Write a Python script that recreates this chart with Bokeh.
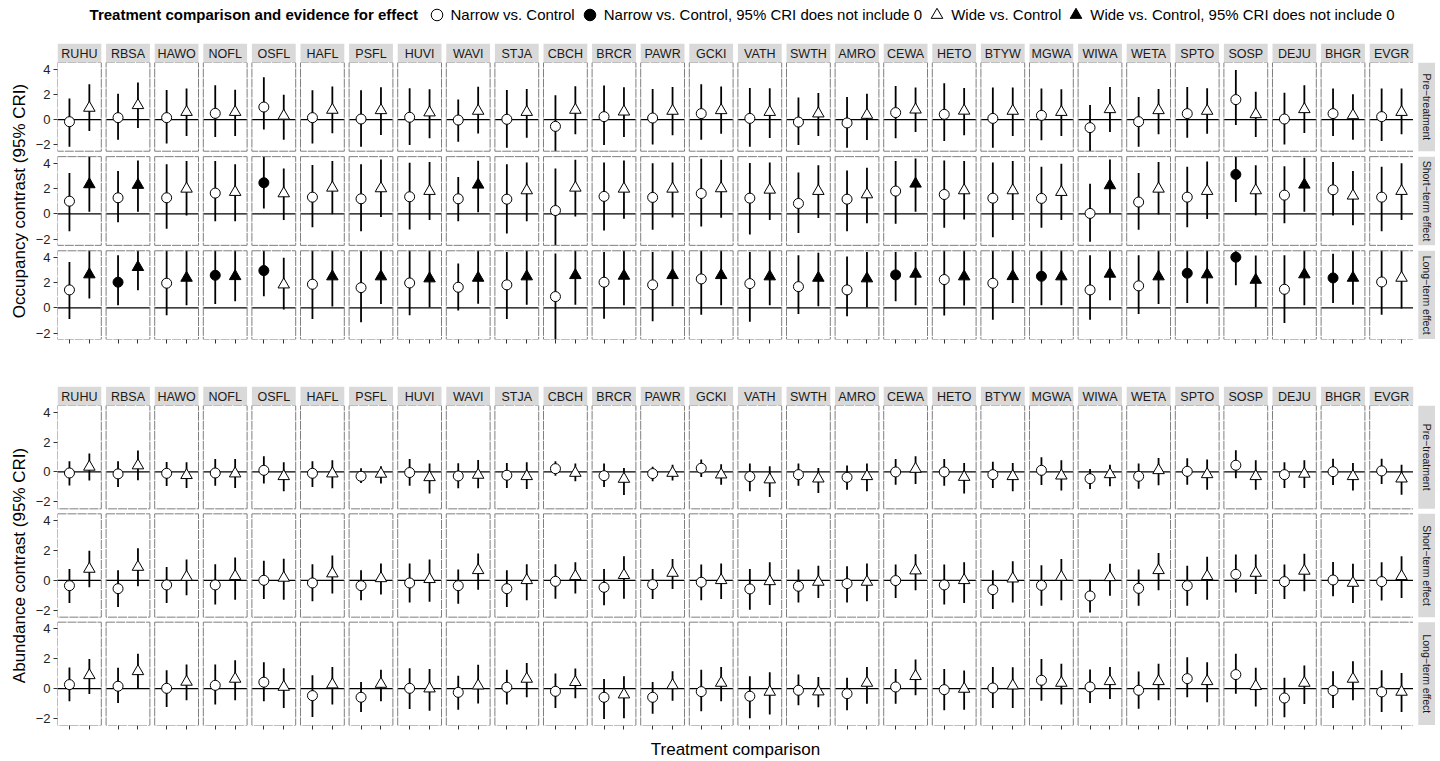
import math
from bokeh.plotting import figure
from bokeh.models import Range1d, FixedTicker, Legend, LegendItem
from bokeh.layouts import column, row
from bokeh.embed import file_html
from bokeh.resources import INLINE
from bokeh.core.properties import value

FONT = "Liberation Sans"

species = ["RUHU", "RBSA", "HAWO", "NOFL", "OSFL", "HAFL", "PSFL", "HUVI", "WAVI", "STJA",
           "CBCH", "BRCR", "PAWR", "GCKI", "VATH", "SWTH", "AMRO", "CEWA", "HETO", "BTYW",
           "MGWA", "WIWA", "WETA", "SPTO", "SOSP", "DEJU", "BHGR", "EVGR"]
periods = ["Pre\u2212treatment", "Short\u2212term effect", "Long\u2212term effect"]
comparisons = ["Narrow vs. Control", "Wide vs. Control"]
y_tick_values = [-2, 0, 2, 4]
y_tick_labels = ["\u22122", "0", "2", "4"]

# (estimate, lower 95% CRI, upper 95% CRI) per species, in the order of `species`
occ_pre_narrow = [(-0.16, -2.14, 1.67), (0.16, -1.59, 2.06), (0.16, -1.88, 2.35), (0.50, -1.38, 2.72),
                  (1.00, -0.77, 3.36), (0.16, -1.88, 2.33), (0.05, -2.14, 2.33), (0.19, -2.01, 2.49),
                  (-0.03, -1.75, 1.59), (0.03, -2.22, 2.35), (-0.53, -2.49, 1.93), (0.24, -2.01, 2.70),
                  (0.13, -1.96, 2.43), (0.48, -1.59, 2.80), (0.10, -2.14, 2.51), (-0.19, -2.01, 1.75),
                  (-0.26, -2.22, 1.80), (0.56, -1.48, 2.67), (0.42, -1.69, 2.88), (0.10, -2.22, 2.54),
                  (0.34, -1.64, 2.46), (-0.63, -2.49, 1.16), (-0.16, -2.14, 1.80), (0.48, -1.43, 2.59),
                  (1.59, -0.42, 3.94), (0.05, -1.96, 2.14), (0.48, -1.30, 2.46), (0.24, -1.69, 2.46)]
occ_pre_wide = [(0.93, -0.90, 2.80), (1.14, -0.66, 2.94), (0.60, -1.30, 2.46), (0.60, -1.30, 2.38),
                (0.30, -1.59, 1.98), (0.77, -1.08, 2.62), (0.74, -1.22, 2.57), (0.56, -1.48, 2.41),
                (0.69, -1.10, 2.60), (0.60, -1.43, 2.43), (0.77, -1.16, 2.65), (0.63, -1.38, 2.57),
                (0.69, -1.24, 2.59), (0.74, -1.11, 2.62), (0.60, -1.46, 2.49), (0.48, -1.30, 2.12),
                (0.37, -1.61, 2.06), (0.79, -0.98, 2.54), (0.70, -1.24, 2.50), (0.69, -1.30, 2.54),
                (0.60, -1.30, 2.41), (0.82, -0.98, 2.59), (0.74, -1.16, 2.43), (0.69, -1.11, 2.49),
                (0.42, -1.38, 2.22), (0.82, -1.06, 2.72), (0.34, -1.59, 2.01), (0.60, -1.16, 2.46)]
occ_short_narrow = [(1.00, -1.38, 3.23), (1.27, -0.66, 3.39), (1.27, -1.19, 3.92), (1.64, -0.58, 4.18),
                    (2.46, 0.42, 4.66), (1.32, -1.06, 3.86), (1.19, -1.38, 3.92), (1.35, -1.24, 4.05),
                    (1.19, -0.58, 2.91), (1.16, -1.56, 3.92), (0.26, -2.60, 3.60), (1.38, -1.32, 4.07),
                    (1.30, -1.27, 4.00), (1.61, -1.00, 4.37), (1.24, -1.64, 4.02), (0.82, -1.53, 3.28),
                    (1.16, -1.38, 3.44), (1.80, -0.79, 4.18), (1.53, -1.11, 4.23), (1.24, -1.85, 4.07),
                    (1.22, -1.11, 3.73), (0.03, -2.22, 2.38), (0.93, -1.27, 3.23), (1.32, -1.06, 3.73),
                    (3.12, 0.93, 4.60), (1.48, -0.74, 3.76), (1.90, -0.13, 4.10), (1.32, -1.38, 3.73)]
occ_short_wide = [(2.33, 0.16, 4.70), (2.28, 0.16, 4.23), (1.98, -0.13, 4.18), (1.72, -0.58, 3.92),
                  (1.61, -0.50, 3.60), (2.06, -0.03, 4.18), (2.01, -0.26, 4.31), (1.80, -0.50, 4.10),
                  (2.30, 0.13, 4.20), (1.85, -0.58, 4.07), (2.06, -0.21, 4.29), (1.98, -0.40, 4.23),
                  (1.98, -0.29, 4.07), (2.01, -0.32, 4.29), (1.90, -0.50, 4.07), (1.80, -0.34, 3.84),
                  (1.53, -0.74, 3.65), (2.38, 0.16, 4.39), (1.85, -0.45, 4.18), (1.85, -0.50, 4.18),
                  (1.72, -0.50, 3.97), (2.25, 0.05, 4.31), (1.98, -0.05, 4.10), (1.80, -0.42, 4.15),
                  (1.85, -0.11, 3.84), (2.30, 0.16, 4.44), (1.43, -0.90, 3.39), (1.80, -0.50, 4.00)]
occ_long_narrow = [(1.43, -0.87, 3.65), (2.04, 0.21, 4.18), (1.96, -0.58, 4.60), (2.59, 0.32, 4.60),
                   (2.96, 0.93, 4.60), (1.88, -0.87, 4.60), (1.61, -1.13, 4.60), (1.98, -0.58, 4.60),
                   (1.64, -0.21, 3.52), (1.83, -0.87, 4.44), (0.90, -2.60, 4.31), (2.04, -0.85, 4.44),
                   (1.83, -1.06, 4.44), (2.30, -0.53, 4.60), (1.93, -1.10, 4.44), (1.69, -0.48, 4.18),
                   (1.43, -0.66, 4.07), (2.62, 0.53, 4.44), (2.25, -0.60, 4.60), (1.96, -0.93, 4.60),
                   (2.51, 0.21, 4.60), (1.43, -0.93, 4.18), (1.75, -0.48, 4.18), (2.75, 0.40, 4.60),
                   (4.02, 1.80, 4.60), (1.48, -1.19, 4.18), (2.38, 0.40, 4.29), (2.06, -0.53, 4.60)]
occ_long_wide = [(2.65, 0.74, 4.60), (3.23, 1.40, 4.60), (2.38, 0.21, 4.60), (2.51, 0.53, 4.60),
                 (1.85, -0.13, 3.97), (2.49, 0.11, 4.60), (2.49, 0.32, 4.60), (2.33, 0.05, 4.60),
                 (2.38, 0.34, 4.60), (2.49, 0.26, 4.60), (2.59, 0.26, 4.60), (2.54, 0.21, 4.60),
                 (2.59, 0.13, 4.60), (2.59, 0.21, 4.60), (2.49, 0.21, 4.60), (2.38, 0.13, 4.37),
                 (2.33, 0.05, 4.44), (2.70, 0.21, 4.44), (2.49, 0.20, 4.60), (2.51, 0.40, 4.60),
                 (2.49, 0.21, 4.60), (2.70, 0.61, 4.60), (2.49, 0.32, 4.60), (2.65, 0.34, 4.60),
                 (2.22, 0.05, 4.15), (2.65, 0.21, 4.60), (2.38, 0.26, 4.60), (2.38, -0.05, 4.60)]

abu_pre_narrow = [(-0.07, -0.90, 0.72), (-0.13, -1.00, 0.72), (-0.09, -0.94, 0.67), (-0.07, -0.92, 0.87),
                  (0.11, -0.78, 1.05), (-0.09, -1.00, 0.72), (-0.29, -0.74, 0.25), (-0.04, -0.92, 0.87),
                  (-0.27, -1.10, 0.58), (-0.22, -1.07, 0.60), (0.22, -0.25, 0.72), (-0.25, -1.00, 0.56),
                  (-0.11, -0.63, 0.34), (0.25, -0.34, 0.83), (-0.31, -1.30, 0.56), (-0.18, -0.92, 0.56),
                  (-0.36, -1.19, 0.43), (0.00, -0.85, 0.87), (0.00, -0.92, 0.87), (-0.18, -1.07, 0.69),
                  (0.11, -0.87, 0.98), (-0.45, -1.14, 0.20), (-0.29, -1.12, 0.56), (0.04, -0.85, 0.92),
                  (0.45, -0.43, 1.45), (-0.18, -1.07, 0.65), (0.02, -0.87, 0.89), (0.07, -0.81, 0.89)]
abu_pre_wide = [(0.34, -0.58, 1.23), (0.43, -0.56, 1.43), (-0.22, -1.07, 0.65), (-0.11, -1.07, 0.87),
                (-0.29, -1.30, 0.65), (-0.11, -1.10, 0.78), (-0.13, -0.78, 0.38), (-0.36, -1.45, 0.56),
                (-0.20, -1.10, 0.80), (-0.29, -1.14, 0.65), (-0.07, -0.63, 0.56), (-0.47, -1.54, 0.27),
                (-0.07, -0.58, 0.49), (-0.18, -0.85, 0.51), (-0.51, -1.68, 0.38), (-0.45, -1.41, 0.27),
                (-0.29, -1.30, 0.56), (0.20, -0.81, 1.05), (-0.34, -1.45, 0.60), (-0.29, -1.30, 0.60),
                (-0.25, -1.25, 0.78), (-0.16, -0.96, 0.49), (0.11, -0.89, 0.94), (-0.16, -1.19, 0.83),
                (-0.29, -1.19, 0.78), (-0.13, -1.07, 0.78), (-0.29, -1.25, 0.60), (-0.45, -1.52, 0.49)]
abu_short_narrow = [(-0.36, -1.52, 0.76), (-0.56, -1.79, 0.67), (-0.31, -1.52, 0.89), (-0.31, -1.63, 1.07),
                    (0.00, -1.25, 1.30), (-0.18, -1.41, 1.07), (-0.36, -1.34, 0.67), (-0.18, -1.48, 1.12),
                    (-0.36, -1.57, 0.72), (-0.56, -1.79, 0.67), (-0.07, -1.23, 1.07), (-0.47, -1.68, 0.76),
                    (-0.29, -1.25, 0.76), (-0.13, -1.34, 1.05), (-0.58, -1.97, 0.76), (-0.40, -1.48, 0.72),
                    (-0.22, -1.48, 0.94), (-0.02, -1.19, 1.05), (-0.31, -1.63, 1.05), (-0.63, -1.92, 0.67),
                    (-0.34, -1.70, 1.01), (-1.05, -2.15, 0.04), (-0.54, -1.70, 0.72), (-0.36, -1.70, 0.98),
                    (0.40, -0.81, 1.72), (-0.09, -1.25, 1.05), (0.02, -1.07, 1.23), (-0.09, -1.36, 1.21)]
abu_short_wide = [(0.76, -0.47, 1.97), (0.89, -0.40, 2.15), (0.22, -1.01, 1.39), (0.27, -1.30, 1.52),
                  (0.16, -1.30, 1.45), (0.45, -0.89, 1.66), (0.13, -0.96, 1.12), (0.07, -1.43, 1.39),
                  (0.67, -0.63, 1.79), (0.00, -1.34, 1.07), (0.27, -0.89, 1.21), (0.34, -1.23, 1.61),
                  (0.49, -0.58, 1.43), (0.00, -1.25, 1.12), (-0.07, -1.66, 1.21), (-0.11, -1.19, 0.98),
                  (-0.11, -1.41, 1.12), (0.65, -0.67, 1.74), (0.00, -1.52, 1.21), (0.11, -1.48, 1.28),
                  (0.22, -1.34, 1.43), (0.20, -1.03, 1.10), (0.67, -0.67, 1.83), (0.27, -1.30, 1.57),
                  (0.49, -0.92, 1.72), (0.63, -0.74, 1.77), (-0.18, -1.52, 1.10), (0.27, -1.19, 1.61)]
abu_long_narrow = [(0.27, -0.85, 1.41), (0.16, -0.96, 1.39), (0.02, -1.23, 1.23), (0.22, -1.07, 1.61),
                   (0.43, -0.85, 1.77), (-0.47, -1.90, 0.89), (-0.58, -1.57, 0.45), (0.02, -1.36, 1.36),
                   (-0.25, -1.41, 0.87), (0.09, -1.07, 1.27), (-0.18, -1.30, 1.01), (-0.58, -2.04, 0.65),
                   (-0.58, -1.68, 0.45), (-0.20, -1.52, 1.27), (-0.51, -1.99, 0.83), (-0.11, -1.12, 0.94),
                   (-0.34, -1.45, 0.72), (0.11, -1.01, 1.32), (-0.07, -1.45, 1.32), (0.04, -1.30, 1.45),
                   (0.56, -0.81, 1.99), (0.11, -0.96, 1.28), (-0.11, -1.34, 1.14), (0.67, -0.58, 2.10),
                   (0.94, -0.34, 2.33), (-0.63, -1.92, 0.72), (-0.13, -1.30, 1.16), (-0.22, -1.57, 1.23)]
abu_long_wide = [(0.89, -0.36, 1.99), (1.16, -0.02, 2.33), (0.45, -0.78, 1.61), (0.65, -0.78, 1.90),
                 (0.11, -1.30, 1.36), (0.27, -1.07, 1.45), (0.31, -0.85, 1.27), (0.00, -1.48, 1.32),
                 (0.20, -1.00, 1.60), (0.65, -0.58, 1.72), (0.43, -0.65, 1.34), (-0.40, -1.99, 0.83),
                 (0.22, -0.81, 1.16), (0.38, -0.85, 1.45), (-0.22, -1.74, 1.10), (-0.20, -1.25, 0.78),
                 (0.38, -1.01, 1.45), (0.83, -0.45, 1.95), (-0.02, -1.41, 1.21), (0.20, -1.30, 1.43),
                 (0.38, -1.07, 1.66), (0.49, -0.69, 1.45), (0.49, -0.78, 1.66), (0.49, -0.92, 1.77),
                 (0.16, -1.19, 1.39), (0.38, -1.03, 1.54), (0.65, -0.78, 1.83), (-0.22, -1.57, 1.05)]

occupancy_rows = [(occ_pre_narrow, occ_pre_wide), (occ_short_narrow, occ_short_wide),
                  (occ_long_narrow, occ_long_wide)]
abundance_rows = [(abu_pre_narrow, abu_pre_wide), (abu_short_narrow, abu_short_wide),
                  (abu_long_narrow, abu_long_wide)]

# ---------------- layout constants ----------------
N = len(species)
FACET_W = 2.2          # discrete scale: two levels at 1 and 2, expanded by 0.6
GAP = 0.241
STEP_X = FACET_W + GAP
FW = 1356
LEFT = 57
RSTRIP = 22
LEG_H = 43
STRIP_FILL = "#D9D9D9"
BORDER = "#7F7F7F"


def style_common(p):
    p.outline_line_color = None
    p.background_fill_color = "white"
    p.border_fill_color = "white"


def build_panel(rows, ylo, yhi, ystep, frame_h, ylabel, xlabel, bottom):
    xr = Range1d(0.4, (N - 1) * STEP_X + 2.6)
    yr = Range1d(ylo, 2 * ystep + yhi)
    p = figure(frame_width=FW, frame_height=frame_h, x_range=xr, y_range=yr,
               output_backend="svg", toolbar_location=None, title=None,
               min_border_left=LEFT, min_border_right=0, min_border_top=0,
               min_border_bottom=bottom)
    style_common(p)
    p.xgrid.visible = False
    p.ygrid.visible = False
    offs = [(2 - r) * ystep for r in range(3)]

    # zero reference lines
    zx0, zx1, zy = [], [], []
    for r in range(3):
        for i in range(N):
            zx0.append(i * STEP_X + 0.4)
            zx1.append(i * STEP_X + 2.6)
            zy.append(offs[r])
    p.segment(x0=zx0, y0=zy, x1=zx1, y1=zy, line_color="black", line_width=1.2)

    # error bars and points
    ex, ey0, ey1 = [], [], []
    groups = {(k, f): {"x": [], "y": []} for k in (0, 1) for f in (False, True)}
    for r, pair in enumerate(rows):
        for k, ser in enumerate(pair):
            for i, (est, lo, hi) in enumerate(ser):
                x = i * STEP_X + k + 1
                ex.append(x)
                ey0.append(offs[r] + max(lo, ylo))
                ey1.append(offs[r] + min(hi, yhi))
                filled = lo > 0 or hi < 0
                groups[(k, filled)]["x"].append(x)
                groups[(k, filled)]["y"].append(offs[r] + est)
    p.segment(x0=ex, y0=ey0, x1=ex, y1=ey1, line_color="black", line_width=1.8)
    for (k, f), d in groups.items():
        if not d["x"]:
            continue
        p.scatter(x=d["x"], y=d["y"], marker="circle" if k == 0 else "triangle",
                  size=10 if k == 0 else 11.5,
                  fill_color="black" if f else "white", line_color="black", line_width=1)

    # panel borders
    bx, by = [], []
    for r in range(3):
        for i in range(N):
            bx.append(i * STEP_X + 1.5)
            by.append(offs[r] + (ylo + yhi) / 2)
    p.rect(x=bx, y=by, width=FACET_W, height=yhi - ylo, fill_color=None,
           line_color=BORDER, line_width=1, line_dash="9 1")

    # y axis: ticks repeated per row
    yt, ov = [], {}
    for r in range(3):
        for v, lab in zip(y_tick_values, y_tick_labels):
            t = offs[r] + v
            yt.append(t)
            ov[t] = lab
    p.yaxis.ticker = FixedTicker(ticks=yt, minor_ticks=[])
    p.yaxis.major_label_overrides = ov
    p.yaxis.axis_label = ylabel

    xt = [i * STEP_X + k + 1 for i in range(N) for k in (0, 1)]
    p.xaxis.ticker = FixedTicker(ticks=xt, minor_ticks=[])
    p.xaxis.major_label_text_font_size = "1px"
    p.xaxis.major_label_text_color = None
    p.xaxis.major_label_standoff = 0
    if xlabel:
        p.xaxis.axis_label = xlabel

    for ax in (p.xaxis, p.yaxis):
        ax.axis_line_color = None
        ax.major_tick_line_color = "#333333"
        ax.major_tick_out = 4
        ax.major_tick_in = 0
        ax.minor_tick_line_color = None
        ax.axis_label_text_font = FONT
        ax.axis_label_text_font_size = "17px"
        ax.axis_label_text_font_style = "normal"
        ax.axis_label_text_color = "black"
    p.yaxis.major_label_text_font = FONT
    p.yaxis.major_label_text_font_size = "13px"
    p.yaxis.major_label_text_color = "#222222"
    p.yaxis.major_label_standoff = 3
    p.yaxis.axis_label_standoff = 4
    p.xaxis.axis_label_standoff = 10
    return p, offs


def build_top_strip(x_range, height):
    s = figure(frame_width=FW, frame_height=height, x_range=x_range, y_range=Range1d(0, 1),
               x_axis_type=None, y_axis_type=None, output_backend="svg", toolbar_location=None,
               title=None, min_border_left=LEFT, min_border_right=RSTRIP,
               min_border_top=0, min_border_bottom=0)
    style_common(s)
    cx = [i * STEP_X + 1.5 for i in range(N)]
    s.rect(x=cx, y=0.5, width=FACET_W, height=1, fill_color=STRIP_FILL, line_color=None)
    s.text(x=cx, y=0.45, text=species, text_align="center", text_baseline="middle",
           text_font=value(FONT), text_font_size="12.5px", text_color="#1A1A1A")
    return s


def build_right_strip(y_range, offs, ylo, yhi, frame_h):
    s = figure(frame_width=RSTRIP, frame_height=frame_h, x_range=Range1d(0, RSTRIP),
               y_range=y_range, x_axis_type=None, y_axis_type=None, output_backend="svg",
               toolbar_location=None, title=None, min_border=0)
    style_common(s)
    cy = [o + (ylo + yhi) / 2 for o in offs]
    s.rect(x=13.4, y=cy, width=17.2, height=yhi - ylo, fill_color=STRIP_FILL, line_color=None)
    s.text(x=13.4, y=cy, text=periods, angle=-math.pi / 2, text_align="center",
           text_baseline="middle", text_font=value(FONT), text_font_size="10.5px",
           text_color="#1A1A1A")
    return s


# ---------------- occupancy ----------------
OCC_LO, OCC_HI, OCC_STEP = -2.5, 4.53, 7.46
pa, offs_a = build_panel(occupancy_rows, OCC_LO, OCC_HI, OCC_STEP, 277,
                         "Occupancy contrast (95% CRI)", None, 47)
strip_a = build_top_strip(pa.x_range, 19)
rstrip_a = build_right_strip(pa.y_range, offs_a, OCC_LO, OCC_HI, 277)

# ---------------- abundance ----------------
ABU_LO, ABU_HI, ABU_STEP = -2.47, 4.45, 7.255
pb, offs_b = build_panel(abundance_rows, ABU_LO, ABU_HI, ABU_STEP, 320,
                         "Abundance contrast (95% CRI)", "Treatment comparison", 35)
strip_b = build_top_strip(pb.x_range, 19)
rstrip_b = build_right_strip(pb.y_range, offs_b, ABU_LO, ABU_HI, 320)

# ---------------- legend ----------------
lf = figure(frame_width=FW, frame_height=LEG_H, x_range=Range1d(0, FW), y_range=Range1d(0, LEG_H),
            x_axis_type=None, y_axis_type=None, output_backend="svg", toolbar_location=None,
            title=None, min_border_left=LEFT, min_border_right=RSTRIP,
            min_border_top=0, min_border_bottom=0)
style_common(lf)
LEG_CY = LEG_H - 14          # vertical centre of the legend row (frame units = px)
KEY = 29
LEG_X = 364.5                # left edge of the first key box
lf.text(x=[LEG_X - 4], y=[LEG_CY], text=["Treatment comparison and evidence for effect"],
        text_align="right", text_baseline="middle", text_font=value(FONT),
        text_font_size="15px", text_font_style="bold", text_color="black")
leg_specs = [("circle", "white", "Narrow vs. Control"),
             ("circle", "black", "Narrow vs. Control, 95% CRI does not include 0"),
             ("triangle", "white", "Wide vs. Control"),
             ("triangle", "black", "Wide vs. Control, 95% CRI does not include 0")]
items = []
for marker, fill, label in leg_specs:
    rr = lf.scatter(x=[-50], y=[-50], marker=marker, size=10, fill_color=fill, line_color="black")
    items.append(LegendItem(label=label, renderers=[rr]))
legend = Legend(items=items, orientation="horizontal", location=(LEG_X, LEG_CY - KEY / 2),
                label_text_font=FONT, label_text_font_size="15px", label_text_color="black",
                glyph_width=KEY, glyph_height=KEY, label_standoff=0, spacing=0,
                padding=0, margin=0, border_line_color=None, background_fill_alpha=0)
lf.add_layout(legend)

layout = column(lf, strip_a, row(pa, rstrip_a), strip_b, row(pb, rstrip_b))

open("out.html", "w").write(file_html(layout, INLINE, "Treatment comparison"))
